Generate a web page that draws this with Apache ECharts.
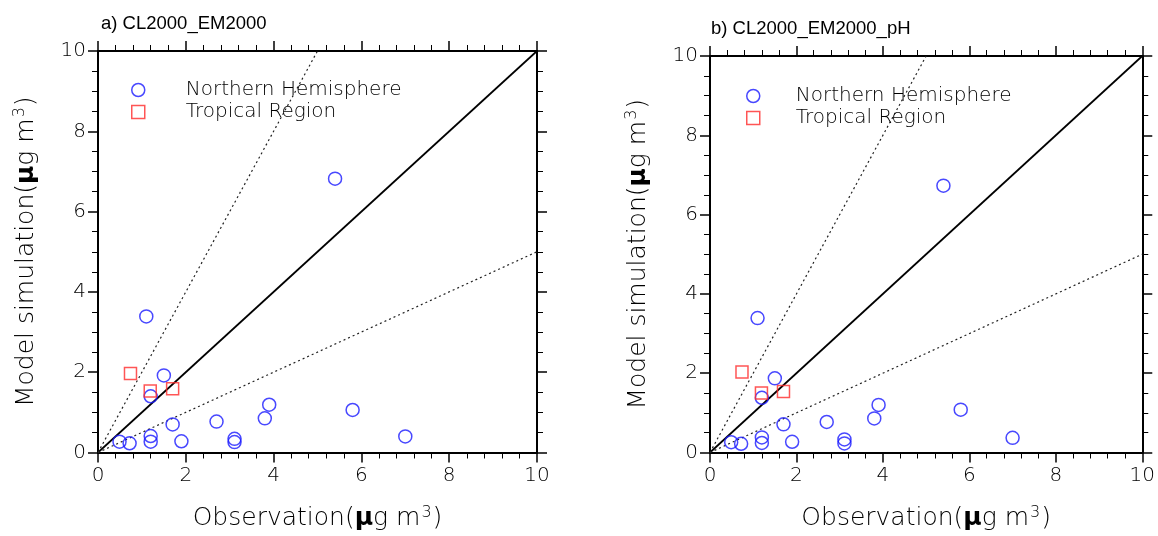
<!DOCTYPE html>
<html>
<head>
<meta charset="utf-8">
<script src="https://cdn.jsdelivr.net/npm/echarts@6/dist/echarts.min.js"></script>
<style>
  html, body { margin: 0; padding: 0; background: #fff; }
  #main { width: 1158px; height: 536px; }
</style>
</head>
<body>
<div id="main"></div>
<script>
  // observations (same stations in both panels)
  var obsNH = [0.49, 0.72, 1.20, 1.20, 1.70, 1.90, 2.70, 3.11, 3.11, 3.80, 3.90, 5.80, 7.00, 1.20, 1.50, 1.10, 5.40];
  var obsTR = [0.74, 1.19, 1.70];
  // model a) CL2000_EM2000
  var simNHa = [0.27, 0.23, 0.41, 0.27, 0.70, 0.28, 0.77, 0.34, 0.26, 0.85, 1.19, 1.06, 0.40, 1.40, 1.92, 3.39, 6.82];
  var simTRa = [1.97, 1.53, 1.59];
  // model b) CL2000_EM2000_pH
  var simNHb = [0.26, 0.22, 0.38, 0.24, 0.71, 0.27, 0.77, 0.33, 0.23, 0.86, 1.20, 1.08, 0.37, 1.38, 1.87, 3.39, 6.73];
  var simTRb = [2.03, 1.50, 1.54];
  // reference lines 1:1, 2:1, 1:2
  var line11 = [[0, 0], [10, 10]];
  var line21 = [[0, 0], [5, 10]];
  var line12 = [[0, 0], [10, 5]];

  var FONT = "DejaVu Sans";
  var BLUE = "#1a1aff";
  var RED = "#ff2a2a";
  var INK = "#000";

  function zip(xs, ys) {
    var out = [];
    for (var i = 0; i < xs.length; i++) out.push([xs[i], ys[i]]);
    return out;
  }

  function nameText(s) {
    return "{t|" + s + "(}{mu|μ}{t|g m}{sup|3}{t|)}";
  }
  var nameRich = {
    t: { fontFamily: FONT, fontSize: 25, fontWeight: 200, color: INK },
    mu: { fontFamily: FONT, fontSize: 25, fontWeight: "bold", color: INK },
    sup: { fontFamily: FONT, fontSize: 16, fontWeight: 200, color: INK, verticalAlign: "top", padding: [0, 1, 12, 1] }
  };

  var axisLine = { show: true, onZero: false, lineStyle: { color: "#000", width: 2 } };

  function xAxes(gi) {
    var base = {
      type: "value", gridIndex: gi, min: 0, max: 10, interval: 2,
      axisLine: axisLine,
      axisTick: { show: true, inside: false, length: 10, lineStyle: { color: "#000", width: 1.5 } },
      minorTick: { show: true, splitNumber: 5, length: 6, lineStyle: { color: "#000", width: 1 } },
      splitLine: { show: false }
    };
    var bottom = Object.assign({}, base, {
      position: "bottom",
      axisLabel: { margin: 13, fontFamily: FONT, fontWeight: 200, fontSize: 20, color: INK },
      name: nameText("Observation"),
      nameLocation: "middle", nameGap: 52,
      nameTextStyle: { rich: nameRich }
    });
    var top = Object.assign({}, base, { position: "top", axisLabel: { show: false } });
    return [bottom, top];
  }

  function yAxes(gi) {
    var base = {
      type: "value", gridIndex: gi, min: 0, max: 10, interval: 2,
      axisLine: axisLine,
      axisTick: { show: true, inside: false, length: 10, lineStyle: { color: "#000", width: 1.5 } },
      minorTick: { show: true, splitNumber: 4, length: 6, lineStyle: { color: "#000", width: 1 } },
      splitLine: { show: false }
    };
    var left = Object.assign({}, base, {
      position: "left",
      axisLabel: { margin: 12, fontFamily: FONT, fontWeight: 200, fontSize: 20, color: INK },
      name: nameText("Model simulation"),
      nameLocation: "middle", nameGap: 58,
      nameTextStyle: { rich: nameRich }
    });
    var right = Object.assign({}, base, { position: "right", axisLabel: { show: false } });
    return [left, right];
  }

  function panelSeries(gi, simNH, simTR) {
    var xi = gi * 2, yi = gi * 2;
    var refStyle = function (type, w, c) {
      return { type: "line", xAxisIndex: xi, yAxisIndex: yi, showSymbol: false, silent: true,
        lineStyle: { color: c, width: w, type: type }, z: 1 };
    };
    return [
      Object.assign(refStyle("solid", 1.7, "#000"), { data: line11 }),
      Object.assign(refStyle([2, 3], 1.2, "#222"), { data: line21 }),
      Object.assign(refStyle([2, 3], 1.2, "#222"), { data: line12 }),
      {
        name: "Northern Hemisphere", type: "scatter", xAxisIndex: xi, yAxisIndex: yi,
        symbol: "circle", symbolSize: 13, z: 3,
        itemStyle: { color: "rgba(0,0,0,0)", borderColor: BLUE, borderWidth: 1.5 },
        data: zip(obsNH, simNH)
      },
      {
        name: "Tropical Region", type: "scatter", xAxisIndex: xi, yAxisIndex: yi,
        symbol: "rect", symbolSize: 12, z: 3,
        itemStyle: { color: "rgba(0,0,0,0)", borderColor: RED, borderWidth: 1.5 },
        data: zip(obsTR, simTR)
      }
    ];
  }

  function legendAt(left, top, gap) {
    return {
      left: left, top: top, orient: "vertical", itemWidth: 13, itemHeight: 13, itemGap: 2,
      selectedMode: false,
      textStyle: { fontFamily: FONT, fontWeight: 200, fontSize: 20, lineHeight: 19, color: INK, padding: [0, 0, 0, gap] },
      data: [
        { name: "Northern Hemisphere", icon: "circle", itemStyle: { color: "rgba(0,0,0,0)", borderColor: BLUE, borderWidth: 1.5 } },
        { name: "Tropical Region", icon: "rect", itemStyle: { color: "rgba(0,0,0,0)", borderColor: RED, borderWidth: 1.5 } }
      ]
    };
  }

  var titleStyle = { fontFamily: "Liberation Sans", fontSize: 18.5, fontWeight: "normal", color: "#000" };

  var chart = echarts.init(document.getElementById("main"));
  chart.setOption({
    animation: false,
    backgroundColor: "#fff",
    title: [
      { text: "a) CL2000_EM2000", left: 96, top: 9, textStyle: titleStyle },
      { text: "b) CL2000_EM2000_pH", left: 706, top: 14, textStyle: titleStyle }
    ],
    legend: [legendAt(126, 75, 36), legendAt(741, 81, 31)],
    grid: [
      { left: 98, top: 51, width: 439, height: 402 },
      { left: 710, top: 56, width: 433, height: 401 }
    ],
    xAxis: xAxes(0).concat(xAxes(1)),
    yAxis: yAxes(0).concat(yAxes(1)),
    series: panelSeries(0, simNHa, simTRa).concat(panelSeries(1, simNHb, simTRb))
  });
</script>
</body>
</html>
